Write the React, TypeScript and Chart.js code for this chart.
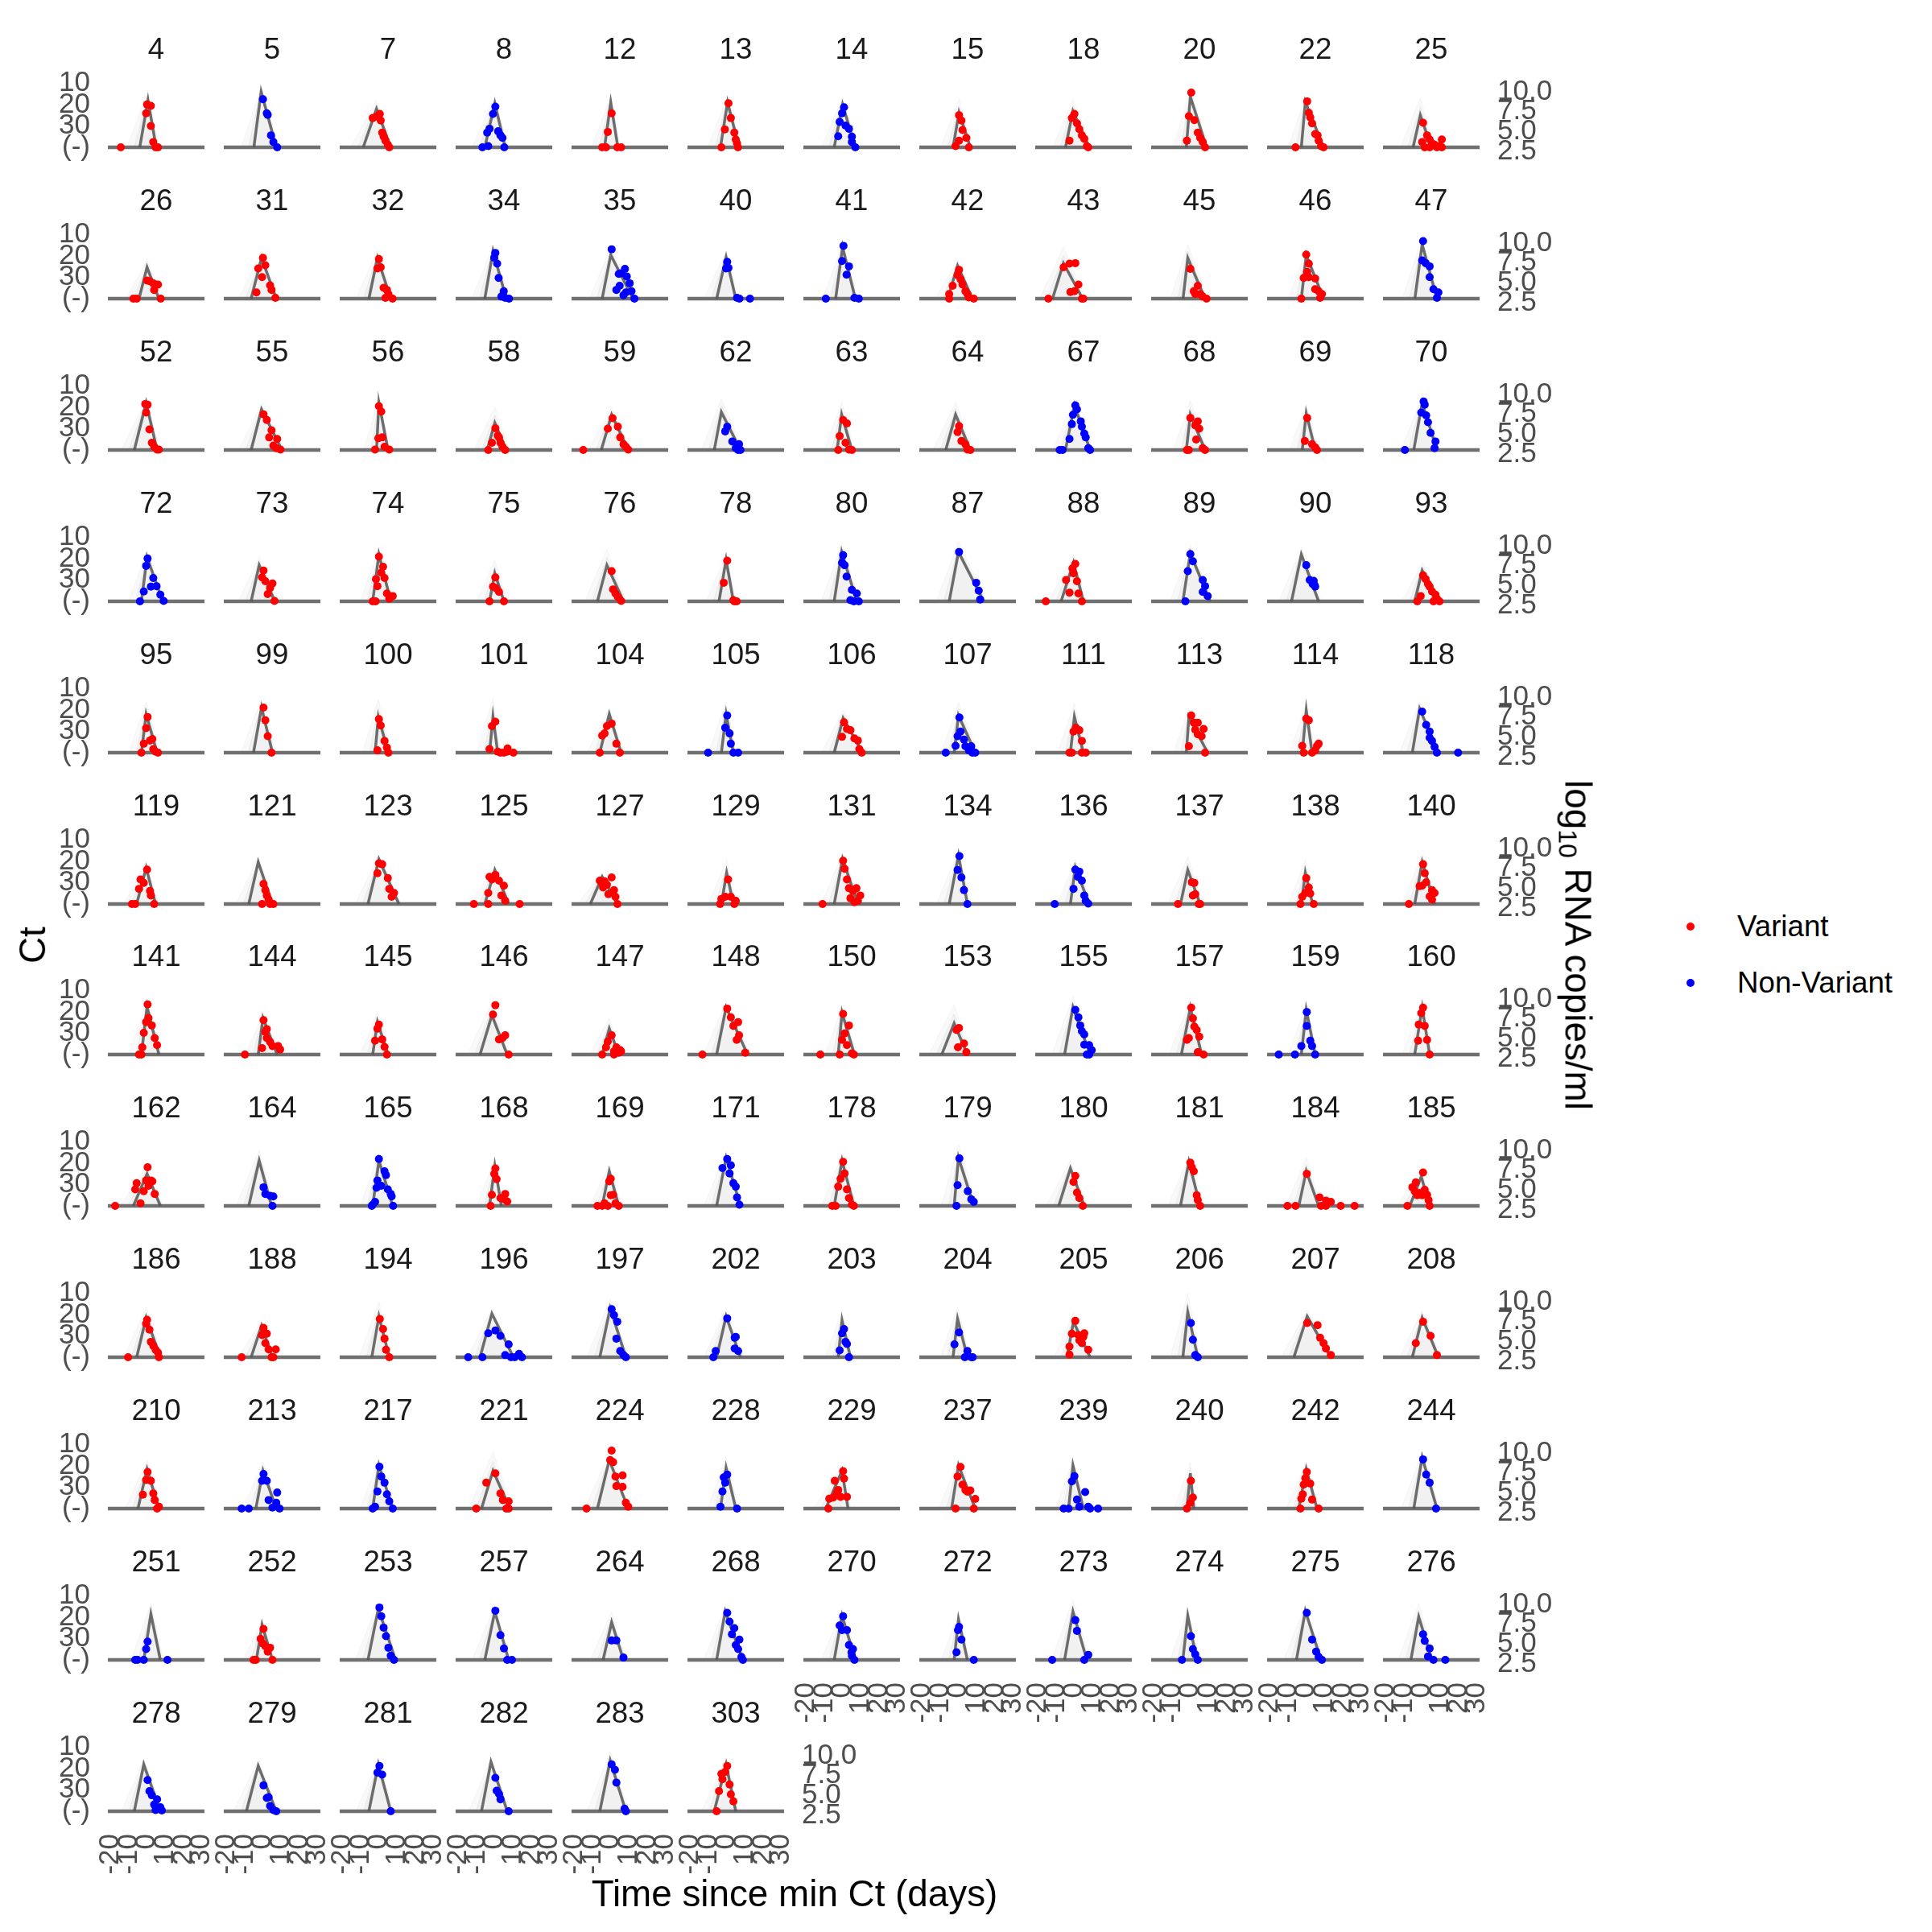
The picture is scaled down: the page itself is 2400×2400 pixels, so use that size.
import React, { useEffect, useRef } from "react";
import { Chart, registerables } from "chart.js";

Chart.register(...registerables);

// ---------------- data ----------------
const PANEL_IDS = [
  4, 5, 7, 8, 12, 13, 14, 15, 18, 20, 22, 25,
  26, 31, 32, 34, 35, 40, 41, 42, 43, 45, 46, 47,
  52, 55, 56, 58, 59, 62, 63, 64, 67, 68, 69, 70,
  72, 73, 74, 75, 76, 78, 80, 87, 88, 89, 90, 93,
  95, 99, 100, 101, 104, 105, 106, 107, 111, 113, 114, 118,
  119, 121, 123, 125, 127, 129, 131, 134, 136, 137, 138, 140,
  141, 144, 145, 146, 147, 148, 150, 153, 155, 157, 159, 160,
  162, 164, 165, 168, 169, 171, 178, 179, 180, 181, 184, 185,
  186, 188, 194, 196, 197, 202, 203, 204, 205, 206, 207, 208,
  210, 213, 217, 221, 224, 228, 229, 237, 239, 240, 242, 244,
  251, 252, 253, 257, 264, 268, 270, 272, 273, 274, 275, 276,
  278, 279, 281, 282, 283, 303,
];

// 1 = Variant, 0 = Non-Variant
const VARIANT = [
  1, 0, 1, 0, 1, 1, 0, 1, 1, 1, 1, 1,
  1, 1, 1, 0, 0, 0, 0, 1, 1, 1, 1, 0,
  1, 1, 1, 1, 1, 0, 1, 1, 0, 1, 1, 0,
  0, 1, 1, 1, 1, 1, 0, 0, 1, 0, 0, 1,
  1, 1, 1, 1, 1, 0, 1, 0, 1, 1, 1, 0,
  1, 1, 1, 1, 1, 1, 1, 0, 0, 1, 1, 1,
  1, 1, 1, 1, 1, 1, 1, 1, 0, 1, 0, 1,
  1, 0, 0, 1, 1, 0, 1, 0, 1, 1, 1, 1,
  1, 1, 1, 0, 0, 0, 0, 0, 1, 0, 1, 1,
  1, 0, 0, 1, 1, 0, 1, 1, 0, 1, 1, 0,
  0, 1, 0, 0, 0, 0, 0, 0, 0, 0, 0, 0,
  0, 0, 0, 0, 0, 1,
];

// observed [time since min Ct (days), Ct] per panel; Ct 40 = negative
const OBS: number[][][] = [
  [[-14.4,40],[0,20],[2.1,20.6],[-0.5,24.1],[2.1,30],[3.4,37.5],[4.7,40],[6,40]],
  [[0,17.5],[2.1,24.1],[2.6,24.8],[4.4,34.4],[5.7,37.5],[7.8,40]],
  [[-3.4,26.3],[-1.3,25.6],[0.5,24.4],[1,27.5],[1.8,33.1],[2.6,35],[3.6,36.9],[4.9,38.8],[5.7,40]],
  [[0.3,21],[-1,24.4],[-2.9,31.3],[-4.2,33.1],[1.8,32.5],[3.1,34.4],[4.2,35.6],[-3.6,39.4],[-6.8,40],[5.2,40]],
  [[0.5,24.1],[-1.6,32.8],[-4.7,40],[-2.6,40],[3.6,40],[5.7,40]],
  [[1,19.4],[2.3,26.3],[-1,31.6],[4.2,33.1],[5,36.3],[5.7,38.1],[6.2,40],[-2.9,40]],
  [[0.8,21.3],[-0.3,24.1],[-1.6,28.1],[1.6,29.8],[3.5,31.3],[-2.4,34.8],[5.1,35],[5.1,37.5],[7,40]],
  [[0.3,25],[1.6,27.5],[2.2,31.9],[4.3,35.6],[0.3,36.9],[-1.6,39.4],[5.7,40]],
  [[0,24.4],[-1.4,26.3],[1.4,28.8],[2.7,31.5],[4.1,34.4],[5.4,36],[-2.7,36.9],[6.8,39.4],[7.6,40]],
  [[0.5,14.4],[-0.8,25.4],[2.2,27.3],[4.1,33.1],[5.4,35.6],[-1.9,36.9],[6.8,37.5],[8.1,40]],
  [[0.5,18.5],[1.4,23.8],[2.2,26],[3.2,28.8],[4.9,33.8],[6.2,34.4],[6.8,36.9],[8.1,39.4],[9.5,40],[-5.9,40]],
  [[0.5,28.5],[2.7,34.4],[0,37.5],[4.1,36.3],[5.4,38.1],[6.8,38.8],[10.8,36.3],[9.5,39.4],[1.4,40],[4.1,40],[8.1,40],[10.8,40]],

  [[-7.5,40],[-5.7,40],[0,31.5],[1.6,31.9],[3.4,32.8],[6,33.4],[3.9,35.9],[7.5,40]],
  [[0,20.9],[1.3,24.4],[-2.6,25.9],[-0.5,29.9],[3.9,33.8],[4.7,35.9],[6.8,39.6],[-3.6,37.1]],
  [[0,21.5],[-0.8,25.9],[1,25.3],[2.6,34.9],[4.4,35.9],[5.2,37.8],[3.6,39.6],[7.5,40]],
  [[0.3,18.6],[-0.3,20.9],[1.3,23.6],[2.1,30.3],[4.9,36.5],[3.6,39],[5.7,39.6],[7.8,40]],
  [[0.5,16.9],[7.8,26.1],[4.4,28.4],[5.7,28.1],[8.8,29.6],[4.9,34],[10.4,32.8],[3.1,35.9],[8.3,37.1],[11.4,36.5],[7,38.4],[13,40]],
  [[0.3,22.8],[-0.3,25.9],[1,25.6],[5.7,39.6],[7,40],[12.8,40]],
  [[0.5,15.3],[-0.3,22.4],[3.5,24.9],[2.2,28.8],[-9.2,40],[6.5,39.6],[8.9,40]],
  [[0.3,26.5],[-0.5,29],[1.1,30.9],[-3.2,34],[2.2,33.4],[3.8,36.5],[4.9,37.8],[-5.1,37.8],[5.7,39.4],[8.4,40],[-5.1,40]],
  [[-5.9,25.3],[-2.7,23.6],[0.5,23.4],[2.2,33.4],[-2.2,36.9],[0,36.5],[4.1,40],[-14.3,40],[4.9,40]],
  [[0,26.1],[1.9,36.5],[4.1,34],[2.7,37.8],[5.4,37.8],[6.8,39],[8.9,40]],
  [[0,19.4],[1.4,23.6],[0.5,27.5],[-1.4,30.3],[1.4,29.9],[4.9,30.6],[4.9,35.6],[6.8,36.5],[8.6,37.8],[7.6,39.6],[-2.7,40]],
  [[0.5,13.1],[0,22.1],[1.9,23.4],[4.1,24.9],[4.1,29.9],[6.2,35.6],[8.9,37.1],[8.1,39.6]],

  [[-1,18.5],[0.3,18.8],[-0.5,22.5],[1.3,30.4],[2.6,36.6],[3.9,38.5],[5.5,39.8],[6.5,39.8]],
  [[0.3,23.3],[2.1,26],[4.7,30.8],[3.4,34.1],[7.8,34.8],[5.7,37.9],[7.3,39.1],[9.6,39.8]],
  [[0,19.5],[1.3,22],[-0.3,34.5],[1.8,34.1],[-2.1,39.8],[3.1,38.5],[5.7,39.8]],
  [[0.3,29.8],[1.6,33.3],[2.3,34.1],[-1.6,36.6],[3.1,36.6],[4.2,38.5],[-3.6,40],[5.7,40]],
  [[-15.1,40],[-1.6,30],[1,25.1],[3.9,29.1],[5.2,34.1],[7,37.3],[8.3,38.5],[9.6,39.8]],
  [[0.3,29.1],[-0.8,31.3],[3.1,36],[6.8,37.3],[5,39.1],[7.6,40],[6.3,40]],
  [[0.3,26],[2.4,27.6],[-1.6,33.5],[1.6,36.6],[-2.4,40],[3.5,39.8],[5.1,40]],
  [[0.3,28.8],[-0.5,31.6],[1.6,35.8],[3.8,37.3],[4.9,39.8],[6.5,40]],
  [[0.5,19.1],[1.4,21],[-0.8,23.5],[-1.4,27.9],[3.5,26.6],[4.1,29.1],[5.4,32.3],[6.2,34.1],[-2.7,34.8],[7.6,39.1],[8.6,40],[-8.1,40],[-6.5,40]],
  [[0,25],[4.1,26.6],[2.7,28.5],[4.9,30],[3.2,35.1],[-1.9,40],[-0.8,40],[6.8,39.1],[8.1,40]],
  [[0.5,25],[-0.8,35.8],[3.2,37.3],[4.9,38.8],[5.9,40]],
  [[0.8,17.3],[1.4,18.8],[-0.5,22.5],[2.2,23.8],[3.2,27],[4.6,32],[7.3,36],[6.8,39.1],[-9.5,40]],

  [[0.3,20],[-0.5,23.4],[3.4,29.1],[2.1,33.1],[5.2,32.9],[-1.8,35.4],[7.3,36.9],[9.1,39.8],[-3.9,40]],
  [[0.3,25.6],[-0.5,28.8],[1.3,30.6],[5.2,31.6],[3.9,33.8],[2.6,36.6],[6.3,39.8]],
  [[0,19.1],[2.3,23.8],[1.3,26.6],[3.1,29.1],[-1.6,29.6],[-0.8,32.9],[4.4,36.3],[7.6,37.5],[5.7,38.8],[-3.4,40],[-1.8,40]],
  [[0.3,28.8],[-1,33.1],[0.5,33.8],[2.3,35.6],[-2.9,40],[5,40]],
  [[0.5,25.9],[1.3,34.4],[2.6,36.3],[3.9,37.9],[5.7,39.8]],
  [[0.3,21],[-1.6,31.3],[3.7,39.4],[5.5,40],[4.2,40]],
  [[0.3,18.4],[-0.3,21.9],[1.1,23.1],[2.2,28.4],[5.1,34.6],[7.8,36.3],[4.3,39.4],[6.2,40],[8.9,40]],
  [[0.3,16.9],[9.7,31.3],[11.1,35],[11.9,39.1]],
  [[0.5,22.5],[-1.1,24.6],[-0.5,26.9],[-4.6,30],[1.4,30.6],[-2.7,35.9],[2.2,36.3],[4.1,40],[-15.7,40]],
  [[0,17.9],[1.4,21.3],[-1.4,25.9],[6.8,30],[8.1,32.9],[6.8,35.6],[9.5,37.5],[-2.7,40]],
  [[0,23.1],[1.9,30],[4.1,30.4],[3.5,31.9],[4.9,33.1],[4.6,32.5]],
  [[0.5,27.9],[1.9,29.6],[3.2,31.9],[4.1,33.1],[5.4,35.4],[7.3,36.9],[8.1,38.8],[9.5,40],[-0.8,37.5],[-2.7,40],[6.2,40]],

  [[0.3,23.3],[-0.5,28.5],[2.9,33.6],[1.6,34.3],[-1.8,35.8],[3.4,38.3],[-3.1,40],[6,40],[4.7,39.5]],
  [[0.3,18.9],[1.3,24.8],[2.6,32.3],[4.7,40]],
  [[0,24.3],[1,27.3],[3.1,34.5],[4.4,37.6],[-0.8,38.9],[5.2,40]],
  [[0.3,25.5],[-1.6,27.6],[-2.9,38.3],[1.6,39.5],[3.1,40],[5,40],[7,38],[6.8,39.5],[10.2,40]],
  [[0.5,26.4],[-2.1,27.6],[-3.4,31],[-4.7,32],[3.1,35.8],[5,40],[-6,40]],
  [[0.3,22.6],[-0.8,28.3],[1.6,31],[2.3,35.8],[-10.2,40],[3.7,40],[6.3,40]],
  [[0.8,25.8],[2.4,28.9],[4.3,29.5],[-0.3,32.6],[6.5,33.3],[8.4,34.3],[9.2,38.3],[10.5,40]],
  [[0.5,23.5],[1.1,30.1],[-0.5,32.3],[3,33.9],[-1.6,36.8],[3.8,37],[7,37],[5.7,38.9],[7.6,40],[9.2,40],[-7,40]],
  [[0.8,28.3],[-0.5,30.1],[2.7,29.5],[4.1,34.5],[-2.7,40],[-1.4,40],[4.1,40],[6.2,40]],
  [[0.5,22.6],[1.9,26],[4.1,26],[2.7,29.3],[7.3,28.9],[4.1,31.4],[6.2,32.3],[-0.8,37],[8.1,40]],
  [[0,24.1],[1.4,24.8],[-2.2,36.8],[-1.4,40],[3.2,40],[5.9,36.8],[6.8,35.8],[4.9,38.9]],
  [[0,20.8],[2.2,27],[4.1,30.1],[4.1,33],[5.4,34.5],[6.8,37.3],[8.1,40],[19.7,40]],

  [[0,23.9],[-3.6,28.5],[-1.8,30.1],[-4.4,32.9],[1.6,33.9],[2.1,36],[-8.3,40],[-6.5,40],[3.9,40]],
  [[0.3,30.6],[1.3,33.5],[2.1,36],[3.1,37.9],[-0.5,40],[3.9,40],[5.7,40]],
  [[0,21],[1.8,21.4],[-0.8,25.6],[4.9,27.9],[5.7,32.9],[8.3,34.8],[7,36.6]],
  [[-2.9,27.3],[0.3,26.4],[-1.6,28.5],[2.3,29.1],[5,31.4],[-3.6,34.8],[3.6,36],[5.7,38.5],[-11.5,40],[-3.6,40],[13.6,40]],
  [[-6,29.1],[-3.4,29.4],[0.5,27.6],[-2.1,31],[-4.2,32.3],[-1.3,35.4],[1.8,33.5],[2.6,36.6],[3.7,40],[-4.7,30.4]],
  [[0.8,28.5],[-2.9,37.6],[-0.8,36.6],[2.3,36.6],[5,38.5],[-3.6,40],[4.2,40]],
  [[0.3,19.8],[1.1,23.5],[2.4,28.5],[3.5,32.6],[7.6,32.6],[5.7,33.9],[9.7,36],[4.3,37.3],[8.4,38.5],[-11,40],[6.5,39.1]],
  [[0.5,17.6],[-0.5,24.1],[1.6,27.6],[3,33.5],[4.9,40]],
  [[0.5,23.9],[2.7,24.8],[1.9,27.3],[4.1,29.1],[-0.5,32.9],[5.4,36],[6.2,38.5],[7.6,39.8],[-10.8,40]],
  [[0.8,29.8],[2.2,30.1],[1.4,36],[2.7,35.4],[4.6,40],[5.4,40],[-6.8,40]],
  [[0,27.9],[1.4,32.3],[-0.5,34.8],[2.2,35.1],[-2.2,36.6],[-3.2,40],[4.1,40]],
  [[0.5,21.4],[1.4,25.6],[2.2,29.8],[-1.4,31.6],[0,31.4],[5.4,33.5],[6.8,34.8],[4.1,36.4],[5.4,37.9],[-7.3,40]],

  [[0.3,16.6],[0.8,22.9],[-0.5,24.8],[2.6,26.4],[-1.8,29.8],[4.2,32.3],[5.5,35.6],[-2.6,36.6],[-3.1,40],[-4.4,40]],
  [[0.3,23.9],[2.1,28.1],[1.3,29.4],[2.1,32.3],[3.9,34.1],[5.2,36],[8.3,36],[9.4,37.6],[-0.5,37],[-9.9,40]],
  [[0,26],[-0.8,27.9],[-2.1,33.5],[1.8,32.9],[3.1,36.4],[4.4,40]],
  [[0.3,16.9],[-1,21.3],[2.3,32.9],[4.2,32.3],[5.7,31],[7.6,40]],
  [[0.5,31],[-1.6,33.9],[-2.6,36.6],[3.1,36.6],[5.2,37.9],[1.8,38.5],[4.4,39.1],[-4.7,40],[1.8,40],[5.7,38.5]],
  [[0.3,18.5],[2.3,22.6],[6.3,24.8],[3.7,26.6],[6.8,31],[5.5,33.1],[10.2,39.1],[-13.3,40]],
  [[0.3,21],[3.5,26.4],[1.1,30.1],[-0.3,33.1],[2.4,35.6],[-1.6,40],[5.1,39.4],[6.2,40],[-12.2,40]],
  [[0.3,27.6],[-1.1,28.5],[3,34.8],[-0.3,36.6],[4.3,38.9]],
  [[0.5,19.1],[2.2,22.6],[3.2,26.4],[4.1,29.1],[5.4,30.6],[5.4,35.4],[8.1,35.6],[9.5,37.9],[6.8,40],[8.1,40]],
  [[0.5,18.1],[1.4,23.1],[2.2,26.9],[3.5,28.5],[4.9,31.6],[-1.9,33.1],[-0.8,32.3],[4.1,38.9],[7.3,40]],
  [[0.3,20.1],[0.3,26.6],[2.2,33.5],[3.2,36],[-2.7,36],[4.9,40],[-6.2,40],[-15.1,40]],
  [[0.5,18.1],[-0.5,20.6],[-1.9,26],[1.4,26.6],[-2.2,33.5],[2.7,33.1],[4.1,40]],

  [[0.3,21.9],[-0.5,28.1],[2.1,28.1],[2.9,28.5],[-5.7,29.4],[-6.5,32.3],[-1.8,33.1],[0.8,30.6],[4.2,34.4],[-3.6,38.8],[-17.5,40]],
  [[0.3,31.3],[1.3,34.4],[3.9,35.3],[5.7,35.6],[5.2,40]],
  [[0,18.1],[3.1,23.8],[3.9,25.6],[-0.8,28.1],[-1.3,31.5],[1.3,30.6],[4.9,32.3],[6.5,34.4],[7,35.6],[-2.1,38.1],[-3.4,39.4],[7.8,40],[-3.9,40]],
  [[0.3,22.5],[-0.3,25],[1,27.5],[-1.6,34.8],[5.7,34.4],[3.1,36.3],[5,36.9],[6.8,37.9],[-2.3,40]],
  [[0,27.3],[-0.8,28.5],[1.3,34.8],[0,35],[-3.4,38.8],[-1.6,40],[-7.3,40],[-4.7,40],[2.6,38.8],[4.4,40]],
  [[0.3,18.1],[2.3,21],[-2.3,22.3],[1.6,24.8],[3.7,29.4],[5,31],[5.7,36],[7,39.4]],
  [[0.3,19.4],[1.1,24.8],[-1.1,27.3],[-2.4,31],[2.4,32.3],[3.5,36.3],[5.1,39.4],[6.2,40],[-5.7,40],[-3.8,40]],
  [[0.5,17.8],[-0.5,30.3],[5.1,33.1],[7,36.9],[8.4,38.1],[-1.1,40]],
  [[0.5,26],[-0.5,28.8],[1.4,33.8],[2.7,36.3],[4.6,40]],
  [[0,19.8],[0.8,21.9],[1.9,23.8],[3.5,35],[4.1,37.3],[5.4,40]],
  [[0.3,25],[7.3,36],[10.8,37.5],[13.5,38.1],[8.1,40],[10.8,40],[-10.3,40],[-5.9,40],[18.9,40],[26.5,40]],
  [[0.5,24.4],[-3.5,29],[-5.4,31.3],[-4.1,33.1],[-1.4,34],[1.4,32.5],[-2.7,35],[0,35],[2.7,34.8],[3.5,37.3],[4.1,40],[-8.1,40]],

  [[0,22.5],[-0.5,24.3],[1.3,27.1],[2.1,32.8],[3.4,34.6],[4.7,36.5],[6,37.8],[6.5,40],[-10.4,40]],
  [[0.3,26.3],[-0.5,29.6],[2.1,29],[1.3,33.4],[3.1,36.3],[7,36.3],[4.7,40],[5.7,40],[-11.7,40]],
  [[0.5,22.1],[2.3,26.8],[3.1,31.3],[3.9,36.5],[5.7,40]],
  [[-3.6,28.8],[0.3,27.5],[3.1,30],[7.6,34],[5.7,39],[8.9,40],[10.9,40],[13.3,38.4],[14.9,40],[-14.6,40],[-6.8,40]],
  [[0.5,17.5],[1.8,20.3],[3.6,23.4],[3.1,31.3],[5.2,37.1],[7,39],[8.3,40]],
  [[0.3,21.8],[4.4,30.9],[5,30.5],[4.4,35.9],[6.3,37.1],[-6,37.1],[-7.3,40]],
  [[0.8,26.8],[-0.3,28.8],[1.6,32.8],[2.4,33.8],[-1.6,36.8],[3.5,40]],
  [[0.3,28.4],[-2.2,34],[4.9,37.1],[3.5,40],[7,40],[7.8,40]],
  [[0.5,23],[-1.4,29],[2.2,29.6],[5.4,28.8],[4.9,30.5],[2.7,32.1],[4.1,33.4],[7.6,36.5],[-2.7,35],[-2.7,38.8]],
  [[0.3,24],[1.4,31.8],[2.7,39],[4.1,40]],
  [[0.5,24],[6.2,25],[7.6,30.9],[9.5,33.4],[10.8,35.9],[13.5,39]],
  [[0.5,23.4],[4.6,30],[-3.5,33.4],[8.1,39]],

  [[0.3,22.9],[-0.5,26.6],[2.1,27],[-2.3,33.5],[3.4,32.9],[4.2,36],[5.5,40],[6.5,39.1]],
  [[0.3,23.8],[-0.5,27],[2.1,27],[7.8,32.5],[3.1,36],[7.3,37.3],[5.2,39.5],[9.1,40],[-11.7,40],[-7.8,40]],
  [[0.3,20.4],[1.3,25],[3.1,27.9],[-0.8,32],[4.4,33.3],[5.7,36.6],[-2.1,39.1],[-3.4,40],[7.6,40]],
  [[0.3,23.5],[-4.7,27.9],[3.1,32.9],[4.4,36],[7.6,36.6],[6.3,40],[7.6,40],[-10.2,40]],
  [[0.5,12.9],[-0.3,17.3],[1.3,18.3],[2.6,25],[6.5,24.5],[3.1,29.5],[6.5,29.8],[8.3,37.3],[9.6,39.1],[-13.3,40]],
  [[0.3,24.1],[-1.6,25.4],[-0.8,27.9],[-2.3,32],[-3.4,39.1],[5.7,40]],
  [[0.3,22.5],[0.8,26],[-4.3,27],[-2.4,31.3],[-3.2,32.5],[-7.3,35.4],[-5.1,34.8],[-1.1,34.5],[2.4,34.5],[-7.8,40]],
  [[1.1,20.5],[-0.5,25],[2.2,28.8],[3.8,31.3],[6.5,31.5],[4.9,32.1],[9.2,35.5],[-1.6,40],[8.4,40]],
  [[0,24.8],[-1.4,27.3],[5.9,32.3],[1.4,35.8],[2.7,39.1],[7.6,39.1],[8.6,40],[-5.9,40],[-3.2,40],[13,40]],
  [[0.3,27],[1.4,34.8],[0,37.3],[-1.9,40]],
  [[0.3,22.9],[-0.5,25.8],[-1.4,28.8],[2.2,28.3],[-1.9,33.3],[-2.7,35.4],[3.2,35.8],[-3.2,40],[6.8,40]],
  [[0.5,17],[2.2,24.1],[4.1,27.9],[7.6,40]],

  [[0.3,31.4],[-0.5,34.9],[-1.8,40],[-6.5,40],[-5.2,40],[11.2,40]],
  [[0.3,25.5],[-1.3,30.1],[0,32.4],[1.3,33.6],[3.9,34.3],[2.6,36.1],[5.2,40],[-5.2,40],[-3.9,40]],
  [[0.3,15.5],[1.3,19.6],[2.6,24.9],[3.9,28.9],[5.2,34.3],[6.5,38],[8.3,40]],
  [[0.3,17],[3.1,28.4],[5,34.6],[6.8,40],[9.4,40]],
  [[0.5,30.9],[3.1,30.9],[7,38.9]],
  [[0.3,18],[1.6,22.1],[4.2,25.1],[2.9,28],[7,30.5],[5,33],[6.3,34.9],[8.1,38.6],[8.9,40]],
  [[0.3,19.6],[-1.6,23.9],[-0.3,26.1],[2.4,26.1],[3.5,33],[5.7,34.9],[4.9,36.4],[6.5,40],[5.1,38]],
  [[0.3,24.6],[-0.3,26.1],[1.6,30.5],[-1.1,36.4],[8.4,40]],
  [[0.5,21.4],[1.4,26.4],[7.6,37.6],[5.4,40],[-12.2,40]],
  [[0.3,28.9],[1.4,34.9],[2.7,37.4],[4.1,40],[-4.6,40]],
  [[0.3,18],[3.2,30.5],[5.4,36.1],[6.8,38.6],[8.6,40]],
  [[0.5,28],[1.4,31.1],[4.1,34.6],[3.2,38.4],[6.2,40],[12.7,40]],

  [[0.3,25.4],[1.3,30.6],[2.6,32.5],[5.5,34.4],[3.9,36.9],[7.3,38.1],[8.1,39.6],[4.7,39.4]],
  [[0.3,27.9],[2.1,33.8],[3.1,33.4],[3.9,37.5],[5.7,39.4],[7.3,40]],
  [[0.3,18.8],[-0.8,21.9],[1.8,22.9],[6.5,40]],
  [[0.3,24.4],[1,30.4],[2.3,31.9],[3.1,34.4],[7.6,40]],
  [[0.5,18.1],[2.3,20.6],[3.1,26.6],[7.6,38.8],[8.3,40]],
  [[0.3,18.8],[-0.8,21.6],[-2.9,22.5],[-2.3,25],[1.6,27.5],[-4.2,30.6],[2.3,32.1],[3.7,35.4],[-5.5,40]],
];

// fitted trajectory per panel: [onset day, peak day, peak Ct, clearance day, upper draw peak Ct]
const FIT: number[][] = [
  [-4,0.5,18,5,13],[-5,-1,14,7.3,12],[-8.6,-1.3,22,6.5,18],[-5.5,0,19.4,5.7,16],[-3.4,0,19,3.9,16],[-3.4,0.5,19,6.8,16],
  [-4.6,0,20,7,16.5],[-3,0.3,23.8,6.5,17.5],[-4.9,-0.8,23.1,8.1,17.5],[-2.2,0,16.3,8.9,13],[-2.7,-0.5,18.8,9.5,16],[-5,-1,25,5,17],
  [-4.4,0,25.3,6.5,22],[-6.5,-0.8,21,7.3,18],[-5.5,-0.8,21,6.5,17],[-5.5,-1,17.8,6.3,15],[-4.7,0,19.6,12.2,16],[-5.5,-0.3,20.6,5,18],
  [-3.8,0,15.9,7,14],[-5.9,-0.5,24.6,7.6,22],[-12,-6,23.4,4.5,16],[-4,-1.4,21,8,14.6],[-2.7,0,19.6,9.5,17],[-4,0,14.6,8.1,12],
  [-7,-0.5,17.9,5.5,16],[-6.5,-0.8,21,10.4,18.5],[-1.3,0,17.9,5,16],[-4.2,0,27.3,6.3,19.8],[-5.2,0.5,23.5,9.6,20],[-6.8,-2.9,22.3,7.6,16],
  [-3,-0.5,23.5,5.1,17.3],[-7,-1.6,23.5,6.5,17.5],[-4.9,0,19.1,8.6,16],[-2.2,0,23.5,8.1,17],[-2.2,0,22.9,4.9,18.5],[-4.6,0,17.9,8.1,15],
  [-3.1,0,19.4,8.6,16],[-6.5,-2.1,23.1,6.5,19],[-3.4,0,18.1,6.5,16],[-2.9,0,26.9,5,20.5],[-7.3,-2.1,23.1,7,15.6],[-4.2,-0.3,20.6,3.7,18],
  [-4.6,-0.5,16.9,7.8,13],[-5.1,0,16.9,13.8,12],[-7.3,-0.5,21.9,4.9,18],[-4.1,0,17.5,10.8,14],[-8.1,-2.7,18.1,6.8,15],[-4.1,0,25.6,8.9,22],
  [-3.1,-0.5,22,5.5,16.4],[-5.2,-0.8,18.9,5.2,15],[-2.1,-0.3,23.3,5.2,15],[-2.9,-1,23.3,1.6,14.5],[-6,-0.8,22,5.7,19],[-2.9,-0.3,22,3.7,16],
  [-4.6,0.3,23.9,11,20],[-2.4,0,22.6,9.2,16.4],[-2.2,0,23.3,4.9,17],[-2.2,-0.8,23.3,9.5,19],[-2.2,0,20.1,3.2,17],[-5.4,-1.4,19.5,8.9,16],
  [-5.7,-0.5,23.1,4.7,20],[-7.8,-2.6,20.4,5.2,17.9],[-6,0,19.1,11,17],[-5.5,0,24.1,7.6,21],[-11.2,-4.7,27.3,3.7,25],[-2.9,0,25.4,3.7,19],
  [-4.6,0,18.9,8.4,16],[-5.1,0,17.3,4.9,15],[-2.2,0.5,22.9,8.1,19],[-5.4,-1.4,24.1,5.4,17.9],[-2.7,-0.5,25.4,3.5,19.1],[-4.1,0,20.4,6.8,17],
  [-3.1,0,17.6,6.5,15],[-2.6,0,22.9,7.8,21],[-3.4,-0.8,24.8,5,20.4],[-8.1,-1.6,21.6,6.8,15.4],[-4.7,-0.8,27.9,4.4,22.9],[-5.5,-0.3,17.9,11.5,15],
  [-2.4,-0.3,20.4,6.5,17],[-9.2,-2.4,25.4,4.9,16.6],[-5.4,-0.8,17.9,8.6,12.9],[-4.9,0,18.1,6.2,15],[-2.7,0,19.1,4.9,16],[-4.1,0,18.1,4.1,16],
  [-7.5,0,25,7.3,21],[-7.8,-2.1,18.8,4.7,13.8],[-3.4,0,18.8,7.6,16],[-2.9,0,21.3,3.6,18],[-4.7,-0.8,23.8,4.4,21.3],[-5.5,-0.3,17.5,7.6,15],
  [-4.6,-0.3,18.8,6.2,16],[-2.4,0,17.5,8.4,11],[-8.6,-2.2,22.5,5.4,18.8],[-5.4,-0.8,19.4,5.4,17],[-4.1,0,23.8,6.8,17.5],[-6.8,-0.5,26.3,4.1,22],
  [-5.7,-0.5,21.5,7.3,16.5],[-6.5,-0.8,25.3,5.2,22.8],[-3.9,0,20.9,5.7,14],[-8.1,-1.6,19.6,10.2,17],[-6,-0.3,17.1,8.3,12.8],[-5.5,-0.3,20.9,7.6,17],
  [-2.4,-0.3,22.8,4.3,17.8],[-3,-0.5,22.1,4.9,16.5],[-4.1,-0.5,23.4,8.6,19],[-4.1,-1.4,19,4.1,10.3],[-6.8,0.5,20.9,13.5,18],[-5.4,0,21.5,8.9,18],
  [-5,0,21.6,6.5,17],[-3.9,0,22.3,7.3,18],[-3.4,0,19.8,7.6,17],[-7.3,-1,22.3,8.3,13.5],[-7.3,-0.8,17.3,9.6,14],[-3.4,-0.3,21,5,16],
  [-9.2,-0.3,22.3,3,20],[-3.8,0,19.8,9.2,17],[-3.2,-0.8,19.8,4.9,17],[-1.9,0,23.5,1.9,18.5],[-4.1,0,21.6,5.9,18],[-4.6,0,16,8.1,14],
  [-1.8,2.1,18.6,7.3,13.6],[-3.6,-0.5,23.6,5.2,21],[-6,-0.3,16.1,9.1,13],[-5.5,0,17.4,7.6,14.5],[-4.2,0.5,22.4,7,17.4],[-5.5,-0.8,17.4,8.9,15],
  [-4.6,-0.3,19.3,7,16],[-2.4,0,21.1,4.9,17.4],[-5.4,-0.8,17.4,6.8,11.8],[-4.1,-1.4,19.3,3.5,16],[-5.4,-0.5,17.1,8.1,14.5],[-6.2,-1.9,19.9,5.4,13.6],
  [-7,-1.8,18.1,7.3,15.6],[-9.1,-2.6,18.8,7.3,16.3],[-5.5,-0.3,18.1,6.5,16],[-7.3,-2.1,16.9,6.8,15],[-6,-0.3,16.3,8.3,11.9],[-6.8,-0.3,18.1,5,15],
];

const X_TICKS = [-20, -10, 0, 10, 20, 30];
const CT_TICKS = [10, 20, 30, 40];
const CT_TICK_LABELS = ["10", "20", "30", "(-)"];
const LOG_TICKS = [2.5, 5, 7.5, 10];
const LOG_TICK_LABELS = ["2.5", "5.0", "7.5", "10.0"];
const LEGEND_LABELS = ["Variant", "Non-Variant"];
const LEGEND_COLORS = ["#ff0000", "#0000ff"];

// ---------------- layout / style ----------------
const FONT = "'Liberation Sans', Arial, Helvetica, sans-serif";
const NCOL = 12;
const PLOT_LEFT0 = 134;
const COL_PITCH = 144;
const PLOT_W = 120;
const PLOT_TOP0 = 90;
const ROW_PITCH = 187.9;
const PLOT_H = 101;
const PAD_L = 100;
const PAD_R = 100;
const PAD_T = 60;
const PAD_B = 100;
const X_MIN = -21.5;
const X_MAX = 31.5;
const CT_MIN = 5;
const CT_MAX = 43;
const ctToLog = (ct: number) => 10 - (ct - 14) / 3.72;
const TICK_COLOR = "#4d4d4d";
const TICK_SIZE = 35;

function Panel({ idx }: { idx: number }) {
  const ref = useRef<HTMLCanvasElement | null>(null);
  const n = PANEL_IDS.length;
  const row = Math.floor(idx / NCOL);
  const col = idx % NCOL;
  const showY = col === 0;
  const showY2 = col === NCOL - 1 || idx === n - 1;
  const showX = idx + NCOL >= n;
  const left = PLOT_LEFT0 + col * COL_PITCH - PAD_L;
  const top = Math.round(PLOT_TOP0 + row * ROW_PITCH) - PAD_T;
  const w = PAD_L + PLOT_W + PAD_R;
  const h = PAD_T + PLOT_H + PAD_B;

  useEffect(() => {
    const canvas = ref.current;
    if (!canvas) return;
    const color = VARIANT[idx] ? LEGEND_COLORS[0] : LEGEND_COLORS[1];
    const [on, pt, pc, en, fan] = FIT[idx];
    const tickFont = { family: FONT, size: TICK_SIZE };
    const hiddenGrid = { display: false, drawTicks: false };
    const chart = new Chart(canvas, {
      type: "scatter",
      data: {
        datasets: [
          {
            data: OBS[idx].map(([x, y]) => ({ x, y })),
            pointRadius: 5,
            pointBackgroundColor: color,
            pointBorderColor: color,
            pointBorderWidth: 0,
            backgroundColor: color,
            order: 0,
          },
          {
            data: [{ x: on, y: 40 }, { x: pt, y: pc }, { x: en, y: 40 }],
            showLine: true,
            pointRadius: 0,
            borderColor: "rgba(85,85,85,0.85)",
            borderWidth: 3.5,
            order: 1,
          },
          {
            data: [{ x: X_MIN, y: 40 }, { x: X_MAX, y: 40 }],
            showLine: true,
            pointRadius: 0,
            borderColor: "rgb(112,112,112)",
            borderWidth: 4.5,
            order: 2,
          },
          {
            data: [{ x: on - 3, y: 40 }, { x: pt, y: (pc + fan) / 2 }, { x: en + 0.8, y: 40 }],
            showLine: true,
            pointRadius: 0,
            borderWidth: 1,
            borderColor: "rgba(0,0,0,0.05)",
            backgroundColor: "rgba(0,0,0,0.035)",
            fill: { value: 40 },
            order: 3,
          },
          {
            data: [{ x: on - 7, y: 40 }, { x: pt, y: fan }, { x: en + 1.6, y: 40 }],
            showLine: true,
            pointRadius: 0,
            borderWidth: 1,
            borderColor: "rgba(0,0,0,0.035)",
            backgroundColor: "rgba(0,0,0,0.022)",
            fill: { value: 40 },
            order: 4,
          },
        ],
      },
      options: {
        responsive: false,
        animation: false,
        devicePixelRatio: 1,
        events: [],
        layout: { padding: 0 },
        plugins: {
          legend: { display: false },
          tooltip: { enabled: false },
          title: {
            display: true,
            text: String(PANEL_IDS[idx]),
            color: "#1a1a1a",
            font: { family: FONT, size: 36.7, weight: "normal", lineHeight: "40px" },
            padding: { top: 13, bottom: 7 },
          },
        },
        scales: {
          x: {
            type: "linear",
            position: "bottom",
            min: X_MIN,
            max: X_MAX,
            grid: hiddenGrid,
            border: { display: false },
            ticks: {
              display: showX,
              autoSkip: false,
              minRotation: 90,
              maxRotation: 90,
              padding: 20,
              color: TICK_COLOR,
              font: tickFont,
              callback: (v: any) => String(v),
            },
            afterBuildTicks: (s: any) => {
              s.ticks = X_TICKS.map((value) => ({ value }));
            },
            afterFit: (s: any) => {
              s.height = PAD_B;
            },
          },
          y: {
            type: "linear",
            position: "left",
            reverse: true,
            min: CT_MIN,
            max: CT_MAX,
            grid: hiddenGrid,
            border: { display: false },
            ticks: {
              display: showY,
              autoSkip: false,
              padding: 22,
              color: TICK_COLOR,
              font: tickFont,
              callback: (v: any) => {
                const i = CT_TICKS.indexOf(Number(v));
                return i >= 0 ? CT_TICK_LABELS[i] : "";
              },
            },
            afterBuildTicks: (s: any) => {
              s.ticks = CT_TICKS.map((value) => ({ value }));
            },
            afterFit: (s: any) => {
              s.width = PAD_L;
            },
          },
          y2: {
            type: "linear",
            position: "right",
            min: ctToLog(CT_MAX),
            max: ctToLog(CT_MIN),
            grid: hiddenGrid,
            border: { display: false },
            ticks: {
              display: showY2,
              autoSkip: false,
              padding: 22,
              color: TICK_COLOR,
              font: tickFont,
              callback: (v: any) => {
                const i = LOG_TICKS.indexOf(Number(v));
                return i >= 0 ? LOG_TICK_LABELS[i] : "";
              },
            },
            afterBuildTicks: (s: any) => {
              s.ticks = LOG_TICKS.map((value) => ({ value }));
            },
            afterFit: (s: any) => {
              s.width = PAD_R;
            },
          },
        },
      } as any,
    });
    return () => chart.destroy();
  }, [idx]);

  return (
    <canvas
      ref={ref}
      width={w}
      height={h}
      style={{ position: "absolute", left, top, width: w, height: h }}
    />
  );
}

export default function App() {
  const titleStyle: React.CSSProperties = {
    position: "absolute",
    fontFamily: FONT,
    fontSize: 45.8,
    color: "#000",
    whiteSpace: "nowrap",
    lineHeight: 1,
  };
  return (
    <div
      style={{
        position: "absolute",
        left: 0,
        top: 0,
        width: 2400,
        height: 2400,
        background: "#fff",
        overflow: "hidden",
      }}
    >
      {PANEL_IDS.map((_, i) => (
        <Panel key={i} idx={i} />
      ))}
      <div style={{ ...titleStyle, left: 41, top: 1174, transform: "translate(-50%,-50%) rotate(-90deg)" }}>Ct</div>
      <div style={{ ...titleStyle, left: 987, top: 2353, transform: "translate(-50%,-50%)" }}>
        Time since min Ct (days)
      </div>
      <div style={{ ...titleStyle, left: 1957, top: 1174, transform: "translate(-50%,-50%) rotate(90deg)" }}>
        log<sub style={{ fontSize: "0.7em", verticalAlign: "-0.25em" }}>10</sub> RNA copies/ml
      </div>
      {LEGEND_LABELS.map((lab, i) => (
        <React.Fragment key={lab}>
          <div
            style={{
              position: "absolute",
              left: 2100 - 5,
              top: 1151 + i * 70 - 5,
              width: 10,
              height: 10,
              borderRadius: "50%",
              background: LEGEND_COLORS[i],
            }}
          />
          <div
            style={{
              position: "absolute",
              left: 2158,
              top: 1151 + i * 70,
              transform: "translateY(-50%)",
              fontFamily: FONT,
              fontSize: 36.7,
              color: "#000",
              whiteSpace: "nowrap",
              lineHeight: 1,
            }}
          >
            {lab}
          </div>
        </React.Fragment>
      ))}
    </div>
  );
}
